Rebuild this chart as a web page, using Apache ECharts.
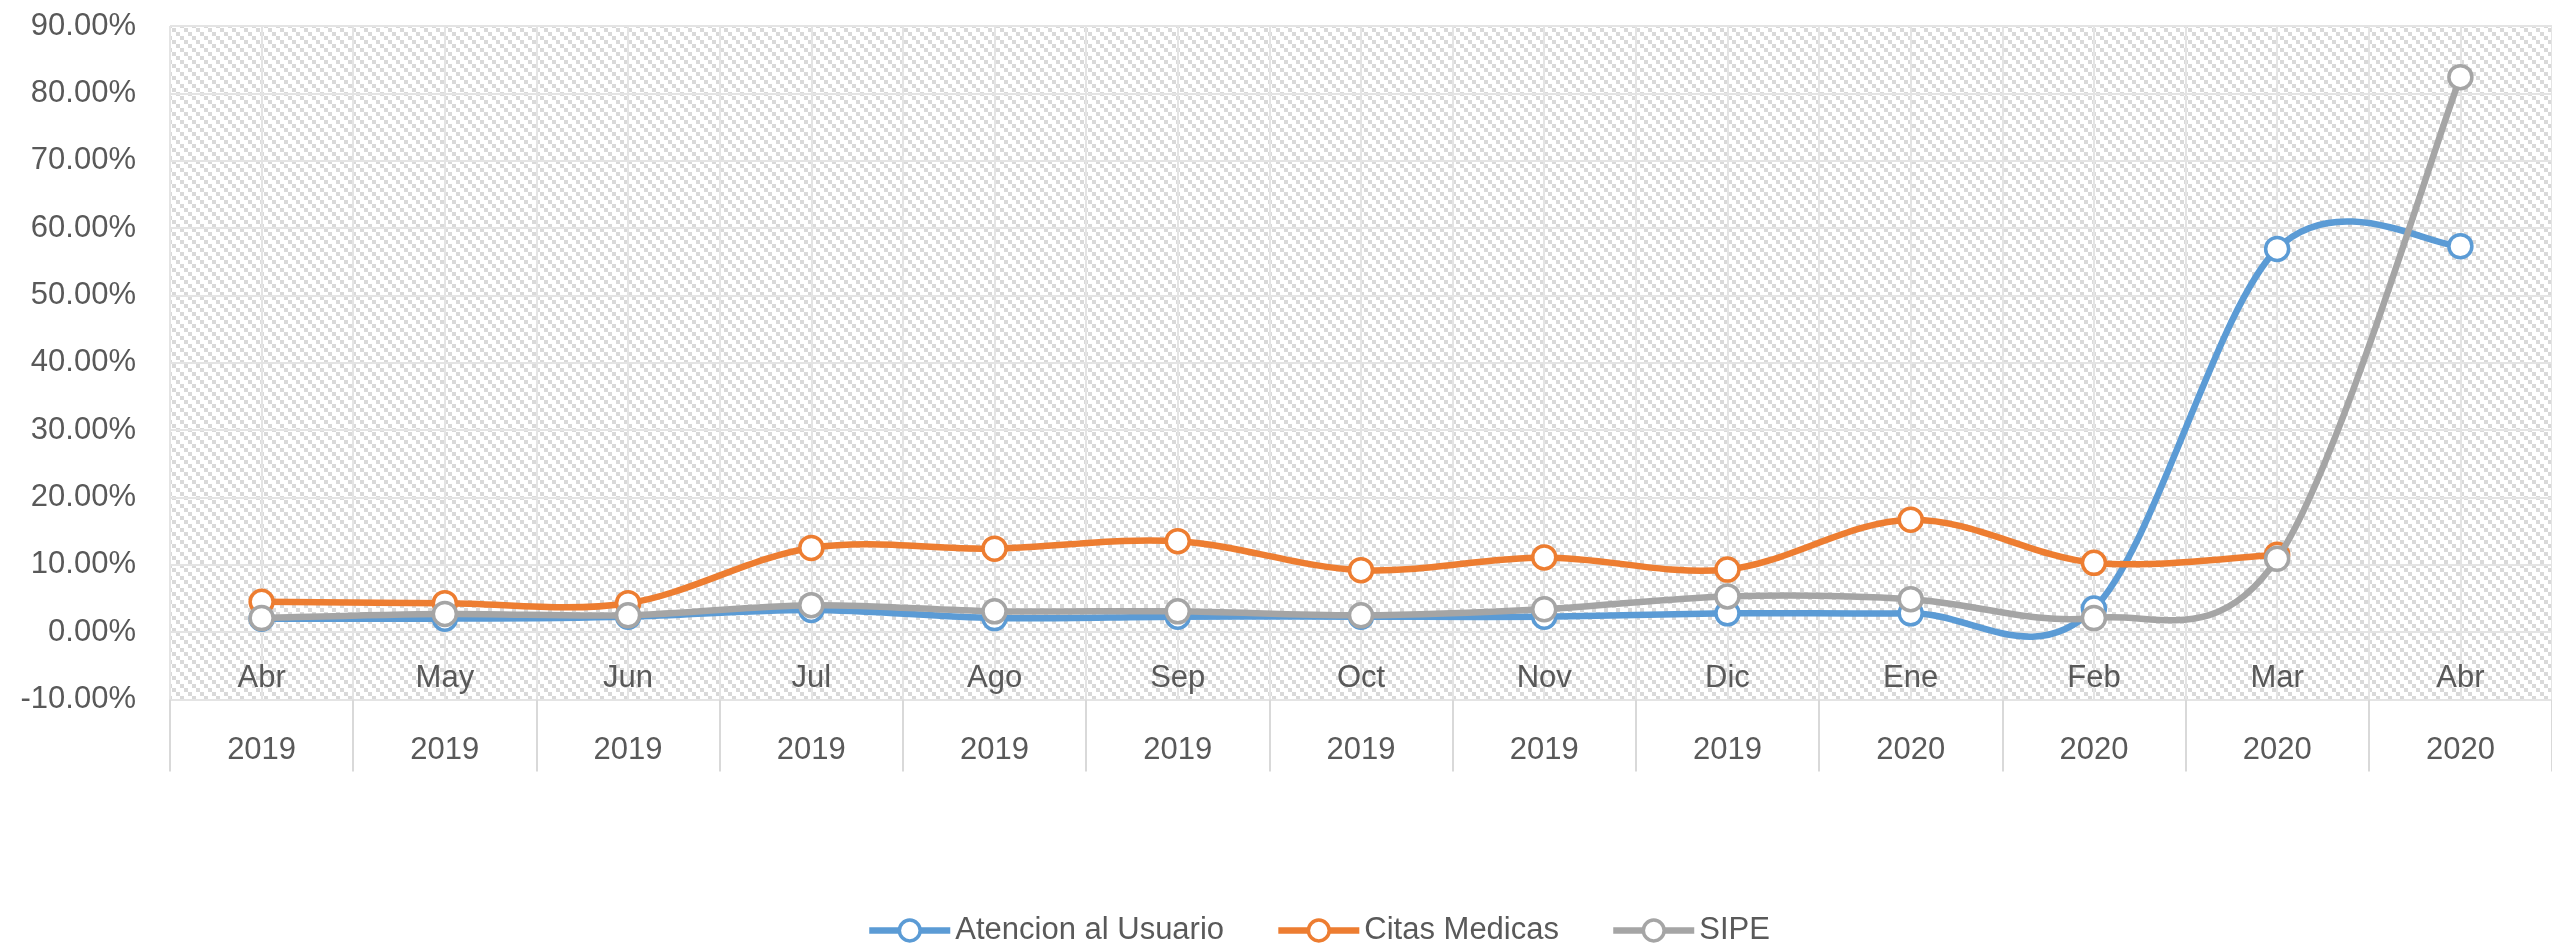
<!DOCTYPE html>
<html>
<head>
<meta charset="utf-8">
<script src="https://cdn.jsdelivr.net/npm/echarts@6/dist/echarts.min.js"></script>
<style>
html,body{margin:0;padding:0;background:#fff;}
#chart{width:2552px;height:944px;}
</style>
</head>
<body>
<div id="chart"></div>
<script>
// ---- data ----
const months = ['Abr','May','Jun','Jul','Ago','Sep','Oct','Nov','Dic','Ene','Feb','Mar','Abr'];
const years = ['2019','2019','2019','2019','2019','2019','2019','2019','2019','2020','2020','2020','2020'];
const seriesNames = ['Atencion al Usuario','Citas Medicas','SIPE'];
const atencionUsuario = [2.0, 2.0, 2.3, 3.3, 2.1, 2.3, 2.3, 2.3, 2.8, 2.8, 3.5, 56.9, 57.3];
const citasMedicas = [4.5, 4.3, 4.3, 12.5, 12.4, 13.5, 9.2, 11.1, 9.3, 16.7, 10.3, 11.5, null];
const sipe = [2.1, 2.7, 2.5, 4.0, 3.1, 3.1, 2.5, 3.4, 5.3, 4.9, 2.1, 10.9, 82.4];
const yMin = -10, yMax = 90, yStep = 10;

// ---- hatch pattern ----
function makeHatch(){
  const c = document.createElement('canvas');
  const cell = 4, n = 3;
  c.width = cell*n; c.height = cell*n;
  const g = c.getContext('2d');
  g.fillStyle = '#ffffff'; g.fillRect(0,0,c.width,c.height);
  g.fillStyle = '#d9d9d9';
  for (let r=0;r<n;r++) for (let col=0;col<n;col++){
    if (((col - r) % n + n) % n === 0) g.fillRect(col*cell, r*cell, cell, cell);
  }
  return c;
}

const FONT = '"Liberation Sans", Arial, sans-serif';
const TXT = '#595959';
const GRID = '#e4e4e4';
const colors = ['#5b9bd5','#ed7d31','#a5a5a5'];
const LW = 6.5;
const halfBands = new Array(months.length*2).fill('');

const chart = echarts.init(document.getElementById('chart'), null, {renderer:'canvas'});

// Excel-like smoothing (Catmull-Rom) drawn through the axis scales
function curveSeries(name, values, color, z){
  return {
    name: name + ' (curve)', type:'custom', xAxisIndex:0, yAxisIndex:0, z,
    data: values.map((v,i)=>[i, v == null ? 0 : v]),
    encode:{x:0, y:1}, silent:true, clip:false,
    renderItem(params, api){
      const i = params.dataIndex;
      if (i >= values.length-1) return;
      const v1 = values[i], v2 = values[i+1];
      if (v1 == null || v2 == null) return;
      const i0 = (i>0 && values[i-1]!=null) ? i-1 : i;
      const i3 = (i+2<values.length && values[i+2]!=null) ? i+2 : i+1;
      const p0 = api.coord([i0, values[i0]]);
      const p1 = api.coord([i, v1]);
      const p2 = api.coord([i+1, v2]);
      const p3 = api.coord([i3, values[i3]]);
      const t = 1/6;
      return {
        type:'bezierCurve',
        shape:{
          x1:p1[0], y1:p1[1], x2:p2[0], y2:p2[1],
          cpx1:p1[0]+(p2[0]-p0[0])*t, cpy1:p1[1]+(p2[1]-p0[1])*t,
          cpx2:p2[0]-(p3[0]-p1[0])*t, cpy2:p2[1]-(p3[1]-p1[1])*t
        },
        style:{stroke:color, lineWidth:LW, fill:null, lineCap:'round', lineJoin:'round'}
      };
    }
  };
}
function markerSeries(name, values, color, z){
  return {
    name, type:'line', data:values, xAxisIndex:0, yAxisIndex:0, z,
    symbol:'circle', symbolSize:23, showSymbol:true,
    lineStyle:{color, width:0, opacity:0},
    itemStyle:{color:'#ffffff', borderColor:color, borderWidth:3.5},
    emphasis:{disabled:true}
  };
}

chart.setOption({
  animation:false,
  textStyle:{fontFamily:FONT},
  grid:{left:170, top:26, width:2393, height:673.5, show:true,
        backgroundColor:{image:makeHatch(), repeat:'repeat'}, borderWidth:0},
  legend:{
    data:seriesNames.map((n,k)=>({name:n,
      lineStyle:{width:LW, opacity:1, color:colors[k]},
      itemStyle:{color:'#ffffff', borderColor:colors[k], borderWidth:3.5}})),
    top:910, left:861,
    itemWidth:81, itemHeight:26, itemGap:51,
    textStyle:{fontFamily:FONT, fontSize:31, color:TXT}
  },
  xAxis:[
    {type:'category', data:months, gridIndex:0, position:'bottom', offset:-67.35,
     axisLine:{show:false, onZero:false}, axisTick:{show:false},
     axisLabel:{fontFamily:FONT, fontSize:31, color:TXT, margin:31, interval:0},
     splitLine:{show:true, interval:0, lineStyle:{color:GRID, width:2}}},
    {type:'category', data:years, gridIndex:0, position:'bottom',
     axisLine:{show:true, onZero:false, lineStyle:{color:GRID, width:2}},
     axisTick:{show:true, interval:0, length:72, lineStyle:{color:'#d9d9d9', width:2}},
     axisLabel:{fontFamily:FONT, fontSize:31, color:TXT, margin:35, interval:0},
     splitLine:{show:false}},
    {type:'category', data:halfBands, gridIndex:0, position:'top', show:true,
     axisLine:{show:false}, axisTick:{show:false}, axisLabel:{show:false},
     splitLine:{show:true, interval:0, lineStyle:{color:GRID, width:2}}}
  ],
  yAxis:{
    type:'value', min:yMin, max:yMax, interval:yStep,
    axisLine:{show:false}, axisTick:{show:false},
    axisLabel:{fontFamily:FONT, fontSize:31, color:TXT, margin:34,
               formatter:v=>v.toFixed(2)+'%'},
    splitLine:{show:true, lineStyle:{color:GRID, width:2}}
  },
  series:[
    curveSeries(seriesNames[0], atencionUsuario, colors[0], 2),
    markerSeries(seriesNames[0], atencionUsuario, colors[0], 3),
    curveSeries(seriesNames[1], citasMedicas, colors[1], 4),
    markerSeries(seriesNames[1], citasMedicas, colors[1], 5),
    curveSeries(seriesNames[2], sipe, colors[2], 6),
    markerSeries(seriesNames[2], sipe, colors[2], 7)
  ]
});
</script>
</body>
</html>
